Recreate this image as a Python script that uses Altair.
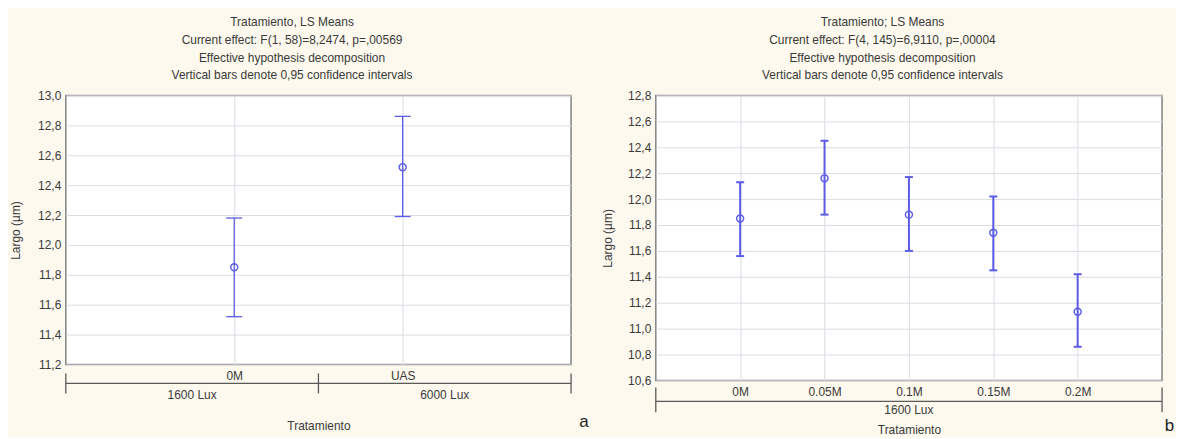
import json
import altair as alt
import pandas as pd

# ---------------- data ----------------
cats_a = ["0M", "UAS"]
means_a = [11.85, 12.52]
lo_a = [11.52, 12.19]
hi_a = [12.18, 12.86]
groups_a = ["1600 Lux", "6000 Lux"]
edges_a = [0, 1.5, 3]
yticks_a = [11.2, 11.4, 11.6, 11.8, 12.0, 12.2, 12.4, 12.6, 12.8, 13.0]
title_a = ["Tratamiento, LS Means",
           "Current effect: F(1, 58)=8,2474, p=,00569",
           "Effective hypothesis decomposition",
           "Vertical bars denote 0,95 confidence intervals"]

cats_b = ["0M", "0.05M", "0.1M", "0.15M", "0.2M"]
means_b = [11.85, 12.16, 11.88, 11.74, 11.13]
lo_b = [11.56, 11.88, 11.60, 11.45, 10.86]
hi_b = [12.13, 12.45, 12.17, 12.02, 11.42]
groups_b = ["1600 Lux"]
edges_b = [0, 6]
yticks_b = [10.6, 10.8, 11.0, 11.2, 11.4, 11.6, 11.8, 12.0, 12.2, 12.4, 12.6, 12.8]
title_b = ["Tratamiento; LS Means",
           "Current effect: F(4, 145)=6,9110, p=,00004",
           "Effective hypothesis decomposition",
           "Vertical bars denote 0,95 confidence intervals"]

# ---------------- style ----------------
FONT = "Liberation Sans"
FS = 12
TXT = "#3a3a3a"
BLUE = "#5c5ce6"
BRK = "#5a5a5a"


def panel(cats, means, lows, highs, groups, edges, yticks, title_lines, letter, L):
    n = len(cats)
    h = L["h"]
    df = pd.DataFrame({"pos": list(range(1, n + 1)), "cat": cats,
                       "mean": means, "lo": lows, "hi": highs})
    xscale = alt.Scale(domain=[edges[0], edges[-1]], nice=False, zero=False)
    yscale = alt.Scale(domain=[yticks[0], yticks[-1]], nice=False, zero=False)
    label_expr = json.dumps([""] + cats + [""]) + "[datum.value]"
    xaxis = alt.Axis(values=list(range(1, n + 1)), labelExpr=label_expr, grid=True,
                     tickSize=0, domain=False, labelPadding=6, labelOverlap=False,
                     title="Tratamiento", titleY=L["xtitle_y"], titleBaseline="middle")
    yaxis = alt.Axis(values=yticks,
                     labelExpr="replace(format(datum.value, '.1f'), '.', ',')",
                     grid=True, tickSize=0, domain=False, labelPadding=5,
                     labelOverlap=False,
                     title="Largo (µm)", titleX=L["ytitle_x"], titleBaseline="middle")

    def X(f):
        return alt.X(f, scale=xscale, axis=xaxis)

    def Y(f):
        return alt.Y(f, scale=yscale, axis=yaxis)

    base = alt.Chart(df)
    rules = base.mark_rule(color=BLUE, strokeWidth=L["lw"]).encode(
        x=X("pos:Q"), y=Y("lo:Q"), y2="hi:Q")
    cap_lo = base.mark_rule(color=BLUE, strokeWidth=L["lw"],
                            xOffset=-L["cap"] / 2, x2Offset=L["cap"] / 2).encode(
        x=X("pos:Q"), x2="pos:Q", y=Y("lo:Q"))
    cap_hi = base.mark_rule(color=BLUE, strokeWidth=L["lw"],
                            xOffset=-L["cap"] / 2, x2Offset=L["cap"] / 2).encode(
        x=X("pos:Q"), x2="pos:Q", y=Y("hi:Q"))
    pts = base.mark_point(shape="circle", filled=False, size=L["pt"], color=BLUE,
                          strokeWidth=1.4, opacity=1).encode(
        x=X("pos:Q"), y=Y("mean:Q"))

    hline = alt.Chart(pd.DataFrame({"x0": [edges[0]], "x1": [edges[-1]]})).mark_rule(
        color=BRK, strokeWidth=1.3).encode(
        x=X("x0:Q"), x2="x1:Q", y=alt.value(h + L["br_y"]))
    bticks = alt.Chart(pd.DataFrame({"e": edges})).mark_rule(
        color=BRK, strokeWidth=1.3).encode(
        x=X("e:Q"), y=alt.value(h + L["bt0"]), y2=alt.value(h + L["bt1"]))
    glabels = alt.Chart(pd.DataFrame({"g": groups, "s": edges[:-1], "t": edges[1:]})
                        ).transform_calculate(c="(datum.s + datum.t) / 2").mark_text(
        font=FONT, fontSize=FS, color=TXT, baseline="middle").encode(
        x=X("c:Q"), y=alt.value(h + L["gl_y"]), text="g:N")

    one = alt.InlineData(values=[{"k": 0}])
    spacer = alt.Chart(one).mark_rule(opacity=0).encode(
        x=alt.value(L["sx0"]), x2=alt.value(L["sx1"]), y=alt.value(L["sy"]))
    title_t = alt.Chart(one).mark_text(font=FONT, fontSize=FS, color=TXT,
                                       baseline="top", lineHeight=18,
                                       align="center").encode(
        x=alt.value(L["w"] / 2 - 26.5), y=alt.value(L["ty"]),
        text=alt.value(title_lines))
    letter_t = alt.Chart(one).mark_text(font=FONT, fontSize=17, color="#222222",
                                        baseline="middle").encode(
        x=alt.value(L["lx"]), y=alt.value(L["ly"]), text=alt.value(letter))

    return alt.layer(spacer, title_t, rules, cap_lo, cap_hi, pts, hline, bticks,
                     glabels, letter_t).properties(width=L["w"], height=h)


La = dict(w=507, h=270, lw=1.3, cap=16, pt=50, xtitle_y=61, ytitle_x=-50, ty=-79,
          br_y=19, bt0=9, bt1=29, gl_y=31, sx0=-57, sx1=531, sy=-86, lx=520, ly=328)
Lb = dict(w=508, h=286, lw=2, cap=8, pt=50, xtitle_y=49, ytitle_x=-48.5, ty=-79,
          br_y=21, bt0=7, bt1=32, gl_y=30, sx0=-57.5, sx1=512.5, sy=-82, lx=515.5, ly=332)

pa = panel(cats_a, means_a, lo_a, hi_a, groups_a, edges_a, yticks_a, title_a, "a", La)
pb = panel(cats_b, means_b, lo_b, hi_b, groups_b, edges_b, yticks_b, title_b, "b", Lb)

chart = alt.hconcat(pa, pb, spacing=1).properties(
    padding=0, background="#fdf9ee"
).configure_axis(
    labelFont=FONT, labelFontSize=FS, labelColor=TXT,
    titleFont=FONT, titleFontSize=FS, titleColor=TXT, titleFontWeight="normal",
    gridColor="#dcdce4", gridWidth=1
).configure_view(fill="white", stroke="#8a8a8a", strokeWidth=1.6)

chart.save("out.html", embed_options={"renderer": "svg", "actions": False})
